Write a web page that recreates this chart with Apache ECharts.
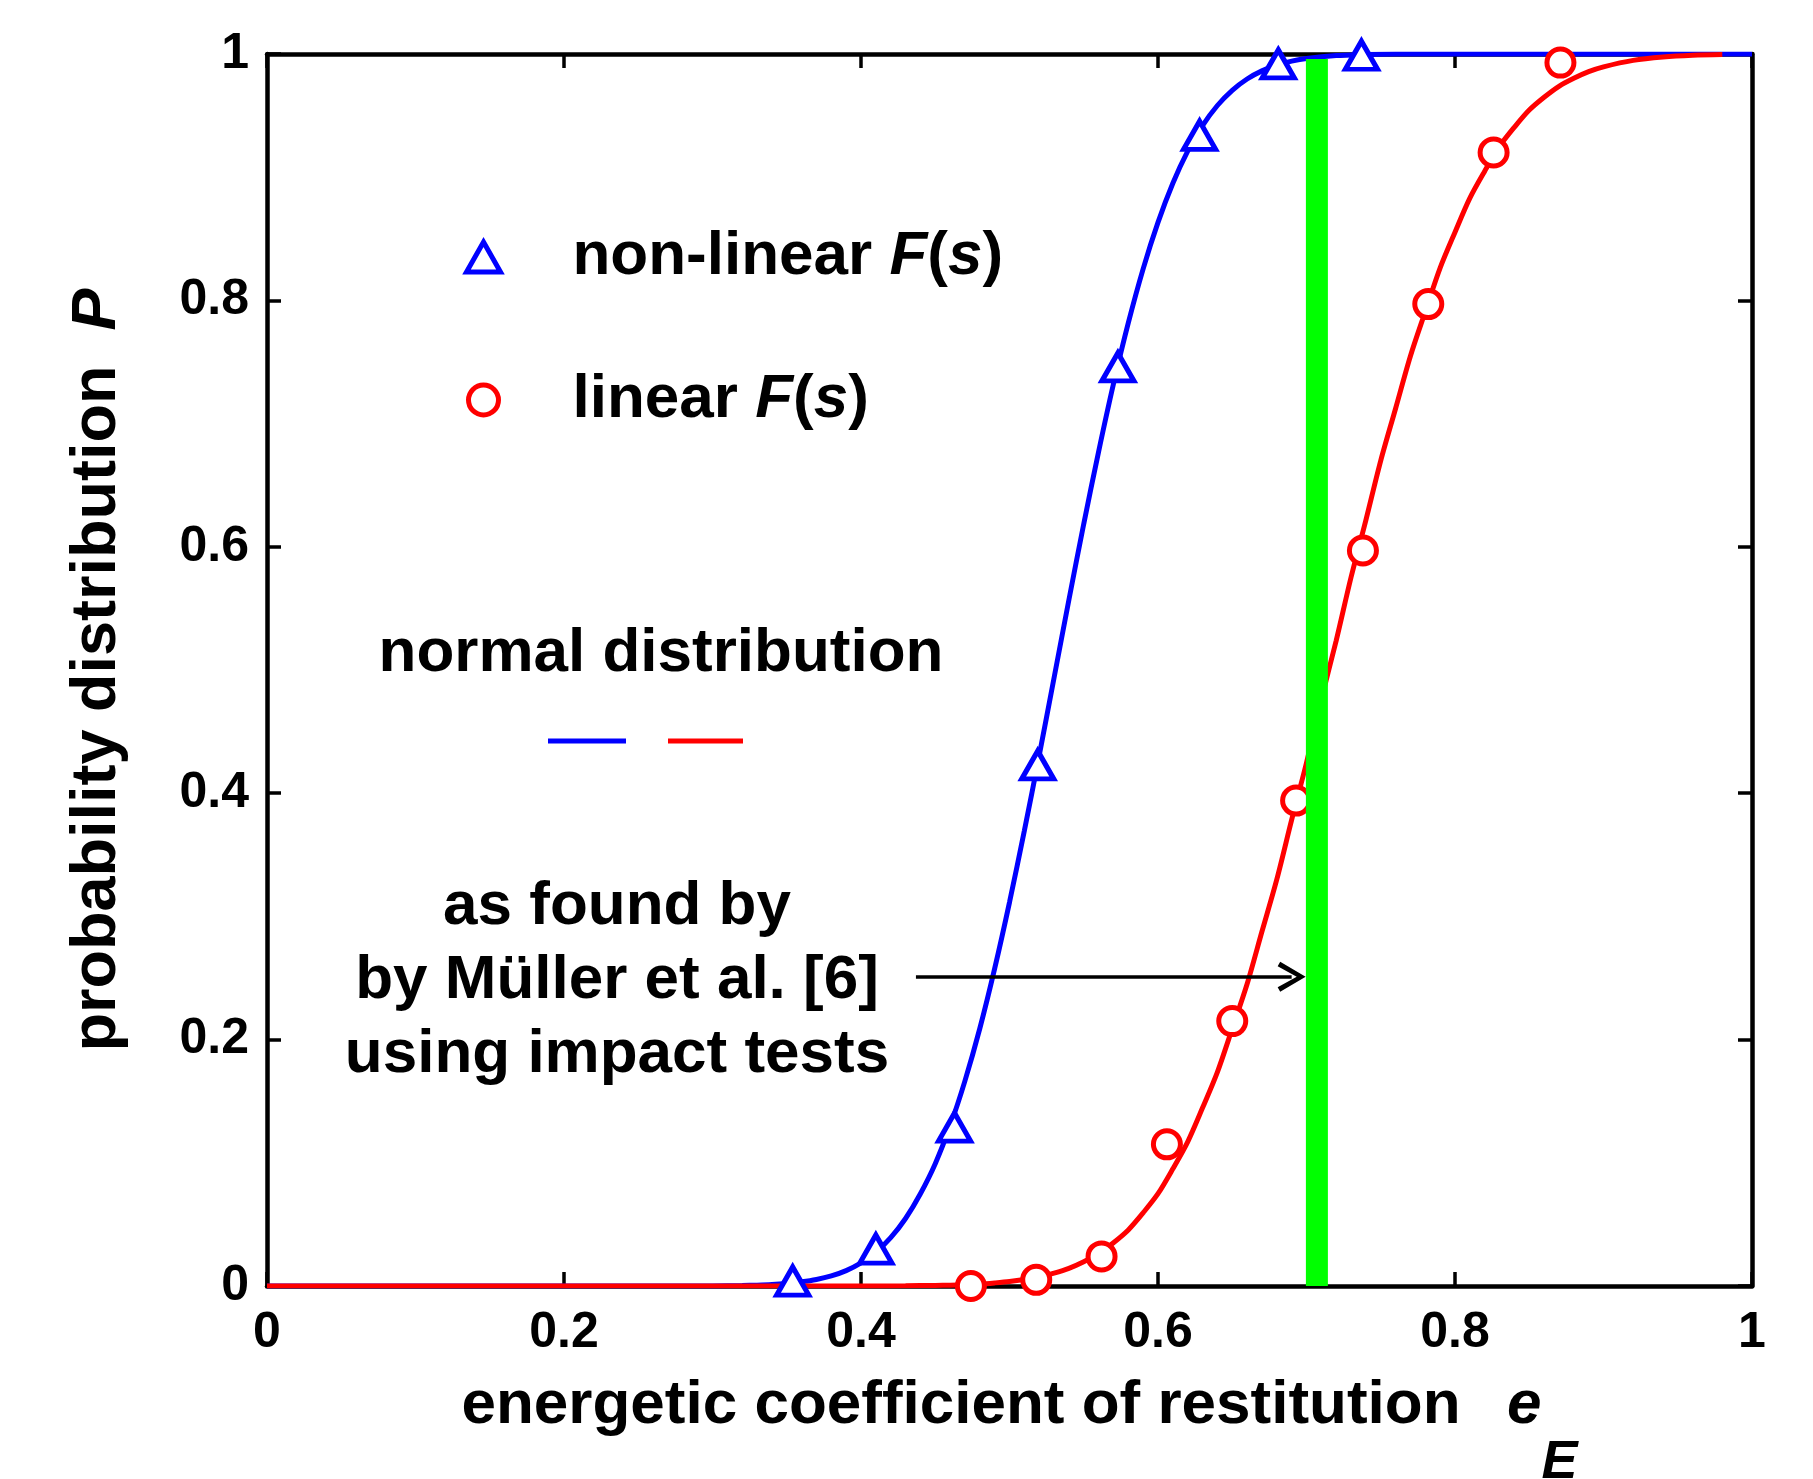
<!DOCTYPE html>
<html><head><meta charset="utf-8">
<script src="https://cdn.jsdelivr.net/npm/echarts@6/dist/echarts.min.js"></script>
<style>html,body{margin:0;padding:0;background:#fff}#c{width:1813px;height:1479px}</style>
</head><body><div id="c"></div>
<script>
const nonlinearX = [0.354, 0.410, 0.463, 0.519, 0.573, 0.628, 0.681, 0.737];
const nonlinearP = [0.004, 0.030, 0.129, 0.423, 0.746, 0.934, 0.992, 0.999];
const linearX = [0.474, 0.518, 0.562, 0.606, 0.650, 0.693, 0.738, 0.782, 0.826, 0.871];
const linearP = [0.000, 0.005, 0.024, 0.115, 0.215, 0.394, 0.597, 0.797, 0.920, 0.993];
// normal distribution curves
const blueCurveX = [0, 0.10, 0.20, 0.26, 0.30, 0.32, 0.33, 0.34, 0.35, 0.36, 0.37, 0.38, 0.39, 0.40, 0.41, 0.42, 0.43, 0.44, 0.45, 0.46, 0.47, 0.48, 0.49, 0.50, 0.51, 0.52, 0.53, 0.54, 0.55, 0.56, 0.57, 0.58, 0.59, 0.60, 0.61, 0.62, 0.63, 0.64, 0.65, 0.66, 0.67, 0.68, 0.69, 0.70, 0.72, 0.74, 0.76, 0.80, 0.90, 1.0];
const blueCurveP = [0, 0, 0, 0, 0.0001, 0.0004, 0.0007, 0.0012, 0.0021, 0.0034, 0.0053, 0.0082, 0.0125, 0.0188, 0.0274, 0.0392, 0.0548, 0.0749, 0.0993, 0.1299, 0.1665, 0.209, 0.2576, 0.3114, 0.3695, 0.4306, 0.4936, 0.5569, 0.6186, 0.6772, 0.7321, 0.7817, 0.8256, 0.8633, 0.8951, 0.9212, 0.9419, 0.9582, 0.9705, 0.9797, 0.9863, 0.9910, 0.9942, 0.9964, 0.9987, 0.9995, 0.9999, 1, 1, 1];
const redCurveX = [0, 0.10, 0.20, 0.30, 0.36, 0.40, 0.43, 0.45, 0.46, 0.47, 0.48, 0.49, 0.50, 0.51, 0.52, 0.53, 0.54, 0.55, 0.56, 0.57, 0.58, 0.59, 0.60, 0.61, 0.62, 0.63, 0.64, 0.65, 0.66, 0.67, 0.68, 0.69, 0.70, 0.71, 0.72, 0.73, 0.74, 0.75, 0.76, 0.77, 0.78, 0.79, 0.80, 0.81, 0.82, 0.83, 0.84, 0.85, 0.86, 0.87, 0.88, 0.89, 0.90, 0.92, 0.94, 0.96, 0.98];
const redCurveP = [0, 0, 0, 0, 0, 0.00004, 0.0002, 0.0005, 0.0007, 0.0011, 0.0016, 0.0025, 0.0036, 0.0052, 0.0073, 0.0104, 0.0143, 0.0197, 0.0262, 0.0351, 0.0455, 0.0594, 0.0749, 0.0951, 0.117, 0.1446, 0.1736, 0.209, 0.2451, 0.2877, 0.330, 0.3783, 0.4247, 0.4761, 0.5239, 0.5753, 0.6217, 0.670, 0.7123, 0.7549, 0.791, 0.8264, 0.8554, 0.883, 0.9049, 0.9251, 0.9406, 0.9545, 0.9649, 0.9738, 0.9803, 0.9857, 0.9896, 0.9948, 0.9975, 0.9989, 0.9995];
// vertical marker (Müller et al.) and arrow
const mullerX = [0.707, 0.707];
const mullerP = [0, 0.996];
const arrowX = [0.437, 0.690];
const arrowP = [0.251, 0.251];
const axisMin = 0, axisMax = 1, axisStep = 0.2;

const FONT = 'Liberation Sans';
const zip = (a, b) => a.map((v, i) => [v, b[i]]);
const chart = echarts.init(document.getElementById('c'), null, {renderer: 'canvas'});
const lblStyle = {fontSize: 50, fontWeight: 'bold', fontFamily: FONT, color: '#000'};
const axisLine = {show: true, onZero: false, lineStyle: {color: '#000', width: 4.5}};
const tick = {show: true, inside: true, length: 14, lineStyle: {color: '#000', width: 3.5}};
const big = {fontSize: 62, fontWeight: 'bold', fontFamily: FONT, color: '#000'};
const bigY = {fontSize: 63, fontWeight: 'bold', fontFamily: FONT, color: '#000'};

chart.setOption({
  animation: false,
  backgroundColor: '#fff',
  grid: {left: 267, top: 54, right: 61, bottom: 193, containLabel: false, outerBoundsMode: 'none'},
  xAxis: [
    {type: 'value', min: axisMin, max: axisMax, interval: axisStep, position: 'bottom',
     axisLine, axisTick: tick, splitLine: {show: false},
     axisLabel: Object.assign({margin: 22}, lblStyle),
     name: '{t|energetic coefficient of restitution  }{e|e}{s|E}',
     nameLocation: 'middle', nameGap: 36,
     nameTextStyle: {padding: [0, 0, 0, 20], rich: {
       t: Object.assign({}, big),
       e: Object.assign({}, big, {fontStyle: 'italic', padding: [0, 0, 0, 12]}),
       s: Object.assign({}, big, {fontSize: 54, fontStyle: 'italic', padding: [114, 0, 0, 0]})
     }}},
    {type: 'value', min: axisMin, max: axisMax, interval: axisStep, position: 'top',
     axisLine, axisTick: tick, splitLine: {show: false}, axisLabel: {show: false}}
  ],
  yAxis: [
    {type: 'value', min: axisMin, max: axisMax, interval: axisStep, position: 'left',
     axisLine, axisTick: tick, splitLine: {show: false},
     axisLabel: Object.assign({margin: 18}, lblStyle),
     name: '{t|probability distribution  }{p|P}',
     nameLocation: 'middle', nameGap: 138,
     nameTextStyle: {rich: {
       t: Object.assign({}, bigY),
       p: Object.assign({}, bigY, {fontStyle: 'italic'})
     }}},
    {type: 'value', min: axisMin, max: axisMax, interval: axisStep, position: 'right',
     axisLine, axisTick: tick, splitLine: {show: false}, axisLabel: {show: false}}
  ],
  legend: {
    orient: 'vertical', left: 459, top: 221, itemWidth: 34, itemHeight: 30, itemGap: 81,
    selectedMode: false,
    itemStyle: {borderWidth: 5},
    data: ['non-linear F(s)', 'linear F(s)'],
    formatter: n => n === 'linear F(s)' ? '{t|linear }{i|F}{t|(}{i|s}{t|)}' : '{t|non-linear }{i|F}{t|(}{i|s}{t|)}',
    textStyle: {fontSize: 62, fontWeight: 'bold', fontFamily: FONT, color: '#000', padding: [0, 0, 0, 67],
      rich: {t: Object.assign({lineHeight: 70}, big), i: Object.assign({lineHeight: 70}, big, {fontStyle: 'italic'})}}
  },
  series: [
    {type: 'line', name: 'normal non-linear', data: zip(blueCurveX, blueCurveP), smooth: 0.3,
     showSymbol: false, symbol: 'none', lineStyle: {color: '#0000ff', width: 5}, z: 2},
    {type: 'line', name: 'normal linear', data: zip(redCurveX, redCurveP), smooth: 0.3,
     showSymbol: false, symbol: 'none', lineStyle: {color: '#ff0000', width: 5}, z: 2},
    {type: 'scatter', name: 'non-linear F(s)', data: zip(nonlinearX, nonlinearP), symbol: 'triangle', symbolSize: [32, 28],
     itemStyle: {color: '#fff', borderColor: '#0000ff', borderWidth: 5, opacity: 1}, z: 3},
    {type: 'scatter', name: 'linear F(s)', data: zip(linearX, linearP), symbol: 'circle', symbolSize: 27,
     itemStyle: {color: '#fff', borderColor: '#ff0000', borderWidth: 5, opacity: 1}, z: 3},
    {type: 'line', name: 'Müller', data: zip(mullerX, mullerP), symbol: 'none',
     lineStyle: {color: '#00ff00', width: 22, cap: 'butt'}, z: 4,
     markLine: {silent: true, animation: false,
       symbol: ['none', 'path://M0,12 L6,0 L12,12 L10.2,13.2 L6,4.2 L1.8,13.2 Z'], symbolSize: [30, 28],
       lineStyle: {color: '#000', width: 3.5, type: 'solid'}, label: {show: false},
       emphasis: {disabled: true},
       data: [[{coord: [arrowX[0], arrowP[0]]}, {coord: [arrowX[1], arrowP[1]]}]]}}
  ],
  graphic: [
    {type: 'text', x: 661, y: 654, style: {text: 'normal distribution', textAlign: 'center', textVerticalAlign: 'middle',
      font: 'bold 62px "Liberation Sans"', fill: '#000'}},
    {type: 'line', shape: {x1: 548, y1: 741, x2: 626, y2: 741}, style: {stroke: '#0000ff', lineWidth: 5}},
    {type: 'line', shape: {x1: 668, y1: 741, x2: 743, y2: 741}, style: {stroke: '#ff0000', lineWidth: 5}},
    {type: 'text', x: 617, y: 981, style: {text: 'as found by\nby Müller et al. [6]\nusing impact tests',
      textAlign: 'center', textVerticalAlign: 'middle', font: 'bold 62px "Liberation Sans"', fill: '#000', lineHeight: 74}}
  ]
});
</script></body></html>
